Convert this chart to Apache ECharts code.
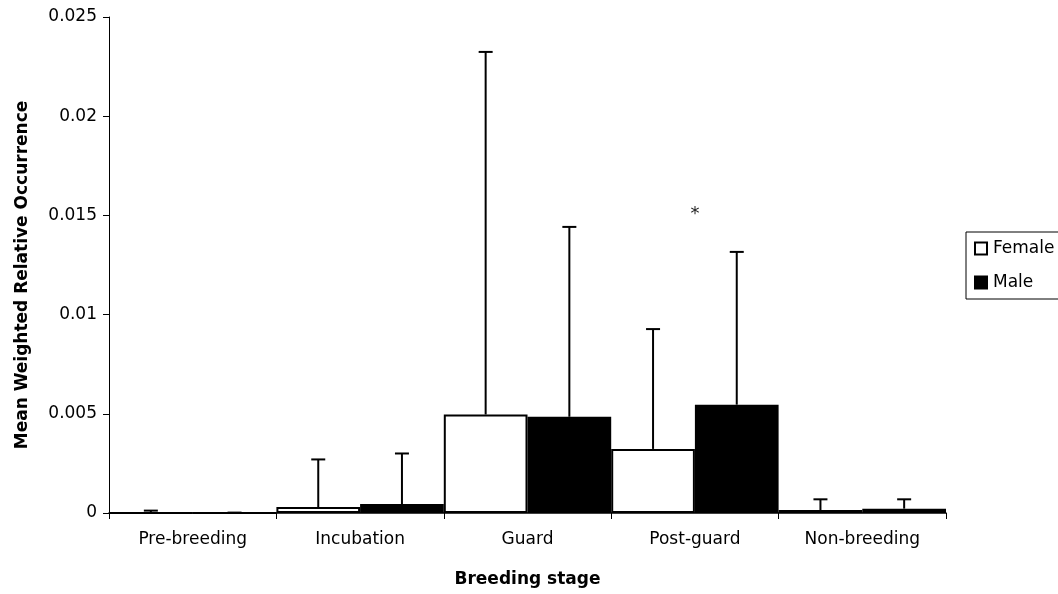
<!DOCTYPE html>
<html>
<head>
<meta charset="utf-8">
<script src="https://cdn.jsdelivr.net/npm/echarts@6/dist/echarts.min.js"></script>
<style>
  html, body { margin: 0; padding: 0; background: #fff; }
  #chart { width: 1058px; height: 594px; }
</style>
</head>
<body>
<div id="chart"></div>
<script>
// Breeding stages on the category axis
const stages = ['Pre-breeding', 'Incubation', 'Guard', 'Post-guard', 'Non-breeding'];
// Mean weighted relative occurrence by sex
const femaleMean = [0, 0.0003, 0.00497, 0.00323, 0.00015];
const maleMean = [0, 0.00045, 0.00485, 0.00546, 0.00022];
// Upper ends of the error bars (mean + error)
const femaleUpper = [0.00012, 0.0027, 0.02324, 0.00927, 0.00069];
const maleUpper = [0.00002, 0.0030, 0.01442, 0.01316, 0.00069];
// Significance marks: [stage index, height]
const significance = [[3, 0.01507]];
const yTicks = { min: 0, max: 0.025, interval: 0.005 };

const FONT = '"DejaVu Sans", sans-serif';

// Upper-only whiskers drawn at the centre of each bar within the band
function errorSeries(upper, mean, side) {
  return {
    type: 'custom',
    silent: true,
    z: 5,
    data: upper.map((u, i) => [i, u, mean[i]]),
    renderItem: function (params, api) {
      const band = api.size([1, 0])[0];
      const top = api.coord([api.value(0), api.value(1)]);
      const base = api.coord([api.value(0), api.value(2)]);
      const x = top[0] + side * band / 4;
      const cap = 7;
      return {
        type: 'group',
        children: [
          { type: 'line', shape: { x1: x, y1: base[1], x2: x, y2: top[1] },
            style: { stroke: '#000', lineWidth: 2 } },
          { type: 'line', shape: { x1: x - cap, y1: top[1], x2: x + cap, y2: top[1] },
            style: { stroke: '#000', lineWidth: 2 } }
        ]
      };
    }
  };
}

const chart = echarts.init(document.getElementById('chart'), null, { renderer: 'canvas' });
chart.setOption({
  animation: false,
  backgroundColor: '#fff',
  textStyle: { fontFamily: FONT },
  grid: { left: 109, right: 112, top: 17, bottom: 81, containLabel: false },
  legend: {
    orient: 'vertical',
    left: 966,
    top: 232,
    padding: [8, 40, 8, 8],
    itemGap: 17,
    itemWidth: 12,
    itemHeight: 12,
    icon: 'rect',
    borderColor: '#000',
    borderWidth: 1,
    textStyle: { fontSize: 17, color: '#000', fontFamily: FONT, padding: [0, 0, 0, 1] },
    data: ['Female', 'Male']
  },
  xAxis: {
    type: 'category',
    data: stages,
    name: 'Breeding stage',
    nameLocation: 'middle',
    nameGap: 58,
    nameTextStyle: { fontSize: 17, fontWeight: 'bold', color: '#000', fontFamily: FONT },
    axisLine: { lineStyle: { color: '#000', width: 1.5 } },
    axisTick: { show: true, length: 6, lineStyle: { color: '#000' } },
    axisLabel: { fontSize: 17, color: '#000', margin: 18, interval: 0 }
  },
  yAxis: {
    type: 'value',
    min: yTicks.min,
    max: yTicks.max,
    interval: yTicks.interval,
    name: 'Mean Weighted Relative Occurrence',
    nameLocation: 'middle',
    nameGap: 78,
    nameTextStyle: { fontSize: 17, fontWeight: 'bold', color: '#000', fontFamily: FONT,
                     padding: [0, 20, 0, 0] },
    axisLine: { show: true, lineStyle: { color: '#000', width: 1 } },
    axisTick: { show: true, length: 6, lineStyle: { color: '#000' } },
    axisLabel: { fontSize: 17, color: '#000', margin: 12 },
    splitLine: { show: false }
  },
  series: [
    {
      name: 'Female',
      type: 'bar',
      data: femaleMean,
      barGap: '0%',
      barCategoryGap: '0%',
      itemStyle: { color: '#fff', borderColor: '#000', borderWidth: 2 }
    },
    {
      name: 'Male',
      type: 'bar',
      data: maleMean,
      barGap: '0%',
      barCategoryGap: '0%',
      itemStyle: { color: '#000', borderColor: '#000', borderWidth: 2 }
    },
    errorSeries(femaleUpper, femaleMean, -1),
    errorSeries(maleUpper, maleMean, 1),
    {
      type: 'custom',
      silent: true,
      data: significance,
      renderItem: function (params, api) {
        const p = api.coord([api.value(0), api.value(1)]);
        return {
          type: 'text',
          style: { x: p[0], y: p[1], text: '*', fill: '#222', fontSize: 18,
                   fontFamily: FONT, align: 'center', verticalAlign: 'middle' }
        };
      }
    }
  ]
});
</script>
</body>
</html>
